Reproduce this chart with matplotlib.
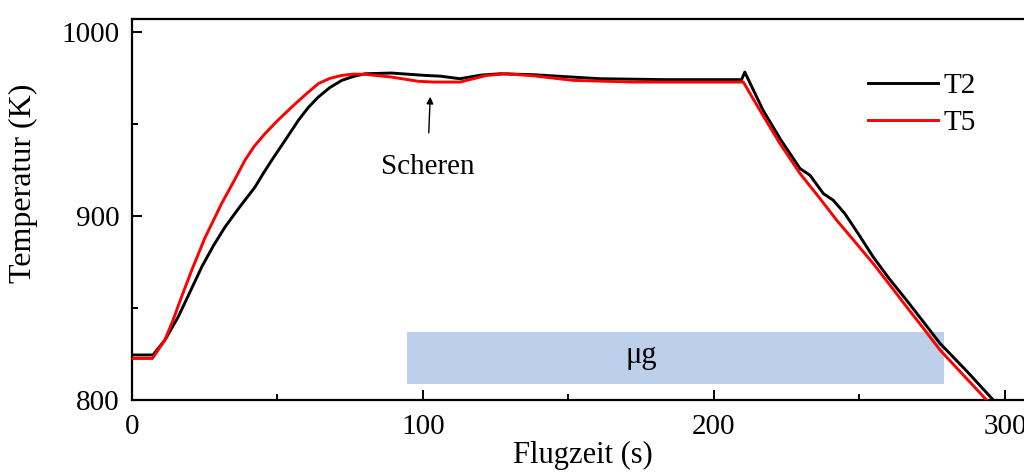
import matplotlib
matplotlib.use("Agg")
import matplotlib.pyplot as plt

# Flugzeit (s) und Temperatur (K)
t2_time = [0, 7.2, 11.3, 15.9, 20.0, 24.0, 28.0, 32.0, 37.0, 42.3, 45.0, 48.0,
           52.5, 57.2, 60.5, 64.0, 68.0, 72.1, 76.0, 80.1, 89.2, 100.7, 106.0,
           112.7, 120.0, 126.5, 137.8, 160.8, 183.7, 209.5, 210.6, 216.9, 223.0,
           229.6, 233.0, 237.6, 241.0, 245.0, 250.0, 254.7, 260.0, 266.2, 272.0,
           277.7, 287.0, 296.0]
t2_temp = [824.5, 824.5, 832.6, 845.3, 859.0, 872.5, 884.0, 894.2, 905.0, 915.9,
           923.0, 930.4, 941.0, 952.2, 959.0, 964.8, 970.0, 973.9, 976.0, 977.5,
           977.9, 976.6, 976.2, 974.8, 976.8, 977.5, 977.0, 974.8, 974.3, 974.3,
           978.4, 957.6, 941.5, 925.9, 922.3, 912.3, 908.7, 901.4, 889.5, 877.9,
           866.5, 854.3, 842.5, 830.8, 815.5, 800.0]

t5_time = [0, 7.0, 11.3, 14.0, 17.0, 20.5, 25.0, 30.8, 35.0, 38.8, 42.0, 45.7,
           50.0, 54.9, 59.5, 64.0, 68.0, 72.1, 76.0, 80.1, 89.2, 98.4, 103.5,
           112.7, 121.9, 128.8, 137.8, 151.7, 172.3, 210.1, 215.8, 222.5, 229.6,
           236.0, 242.2, 248.5, 254.7, 260.5, 266.2, 272.0, 277.7, 285.7, 293.7]
t5_temp = [822.6, 822.6, 832.6, 843.0, 856.0, 870.5, 888.0, 906.9, 919.0, 930.4,
           938.0, 944.9, 952.0, 959.4, 966.0, 972.1, 975.0, 976.6, 977.3, 977.2,
           975.7, 973.4, 973.0, 973.0, 976.6, 977.5, 976.4, 973.9, 973.0, 973.0,
           957.6, 940.0, 923.2, 910.5, 897.8, 886.0, 874.3, 862.5, 850.7, 839.0,
           827.2, 813.6, 800.0]

# Mikrogravitationsphase
mug_span = [94.5, 279.0]
mug_range = [808.7, 837.0]

x_ticks = [0, 100, 200, 300]
y_ticks = [800, 900, 1000]

plt.rcParams["font.family"] = ["Liberation Serif", "DejaVu Serif"]

fig = plt.figure(figsize=(10.24, 4.74), dpi=100)
ax = fig.add_axes([132 / 1024, 74 / 474, 902 / 1024, 381 / 474])

ax.fill_between(mug_span, mug_range[0], mug_range[1], color="#bccfeb",
                linewidth=0, zorder=1)
ax.text(175, 824, "μg", fontsize=22, ha="center", va="center", zorder=2)

ax.plot(t2_time, t2_temp, color="black", lw=2.1, label="T2", zorder=3,
        solid_joinstyle="round")
ax.plot(t5_time, t5_temp, color="#ff0000", lw=2.1, label="T5", zorder=4,
        solid_joinstyle="round")

ax.annotate("Scheren", xy=(102.5, 965), xytext=(101.5, 927),
            fontsize=21, ha="center", va="center",
            arrowprops=dict(arrowstyle="-|>", color="black", lw=1.0,
                            mutation_scale=10, shrinkA=13, shrinkB=0))

ax.set_xlim(0, 310)
ax.set_ylim(800, 1007.3)
ax.set_xticks(x_ticks)
ax.set_yticks(y_ticks)
ax.set_xticks([50, 150, 250], minor=True)
ax.set_yticks([850, 950], minor=True)
ax.tick_params(which="both", direction="in", width=1.4, labelsize=21)
ax.tick_params(which="major", length=7)
ax.tick_params(which="minor", length=4)
ax.tick_params(axis="x", pad=10)
ax.tick_params(axis="y", pad=9)
ax.spines["right"].set_visible(False)
for s in ("left", "bottom", "top"):
    ax.spines[s].set_linewidth(1.6)

ax.set_xlabel("Flugzeit (s)", fontsize=22, labelpad=1)
ax.set_ylabel("Temperatur (K)", fontsize=23)
ax.yaxis.set_label_coords(-0.104, 0.57)

ax.legend(loc="upper left", bbox_to_anchor=(0.816, 0.86), frameon=False,
          fontsize=21, handlelength=2.4, handletextpad=0.2,
          labelspacing=0.38, borderpad=0, borderaxespad=0)

fig.savefig("out.png", dpi=100)
